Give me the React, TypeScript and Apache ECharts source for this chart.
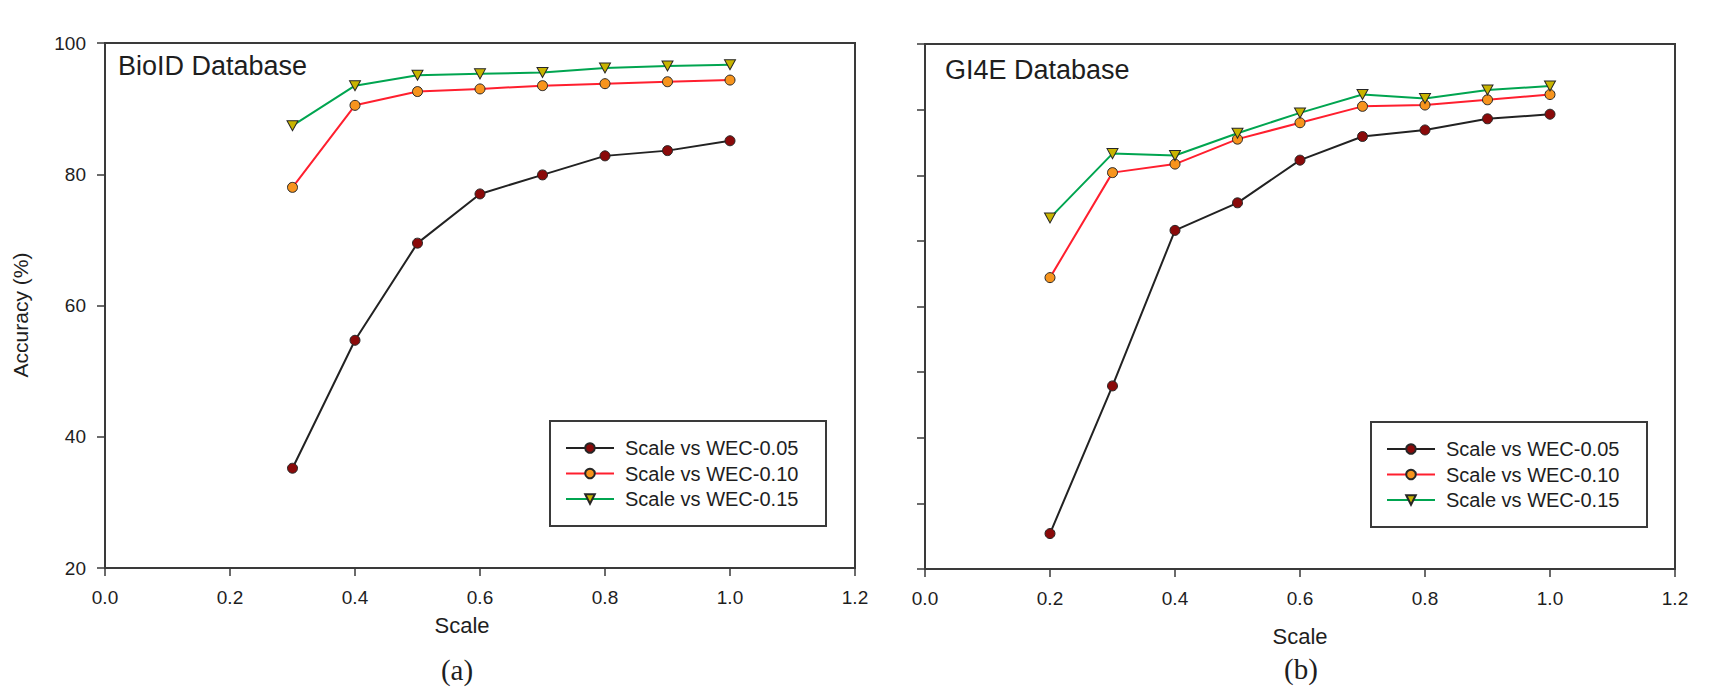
import { useEffect, useRef } from "react";
import * as echarts from "echarts";

// Scale values and accuracies (%) for the BioID database
const bioScale = [0.3, 0.4, 0.5, 0.6, 0.7, 0.8, 0.9, 1.0];
const bioWec005 = [35.2, 54.7, 69.5, 77.0, 79.9, 82.8, 83.6, 85.1];
const bioWec010 = [78.0, 90.5, 92.6, 93.0, 93.5, 93.8, 94.1, 94.35];
const bioWec015 = [87.4, 93.5, 95.1, 95.3, 95.5, 96.2, 96.5, 96.7];

// Scale values and accuracies (%) for the GI4E database
const gi4eScale = [0.2, 0.3, 0.4, 0.5, 0.6, 0.7, 0.8, 0.9, 1.0];
const gi4eWec005 = [25.4, 47.9, 71.6, 75.8, 82.3, 85.9, 86.9, 88.6, 89.3];
const gi4eWec010 = [64.4, 80.4, 81.7, 85.5, 88.0, 90.5, 90.7, 91.5, 92.3];
const gi4eWec015 = [73.5, 83.3, 83.0, 86.4, 89.5, 92.3, 91.7, 93.0, 93.6];

const seriesNames = ["Scale vs WEC-0.05", "Scale vs WEC-0.10", "Scale vs WEC-0.15"];
const panelTitles = ["BioID Database", "GI4E Database"];
const panelLetters = ["(a)", "(b)"];

const SANS = "'Liberation Sans', Arial, sans-serif";
const SERIF = "'Liberation Serif', 'Times New Roman', serif";
const AXIS = "#3a3a3a";
const TEXT = "#1e1e1e";

const styles = [
  { line: "#222222", fill: "#8a0a0a", symbol: "circle", size: 10 },
  { line: "#ff1f2e", fill: "#f7941d", symbol: "circle", size: 10 },
  { line: "#00a550", fill: "#c8b400", symbol: "path://M0,0L12,0L6,10Z", size: [11, 10] },
];

const pairs = (xs: number[], ys: number[]) => xs.map((x, i) => [x, ys[i]]);

function makeSeries(gridIdx: number, xs: number[], ys: number[][]) {
  return ys.map((vals, i) => ({
    name: seriesNames[i],
    type: "line",
    xAxisIndex: gridIdx,
    yAxisIndex: gridIdx,
    data: pairs(xs, vals),
    symbol: styles[i].symbol,
    symbolSize: styles[i].size,
    showAllSymbol: true,
    lineStyle: { color: styles[i].line, width: 2 },
    itemStyle: { color: styles[i].fill, borderColor: "#262626", borderWidth: 1 },
    z: 3 + i,
  }));
}

function xAxisFor(gridIndex: number) {
  return {
    type: "value",
    gridIndex,
    min: 0,
    max: 1.2,
    interval: 0.2,
    axisLine: { show: true, onZero: false, lineStyle: { color: AXIS, width: 2 } },
    axisTick: { show: true, length: 8, lineStyle: { color: AXIS, width: 1.5 } },
    axisLabel: {
      formatter: (v: number) => v.toFixed(1),
      fontSize: 19,
      fontFamily: SANS,
      color: TEXT,
      margin: 20,
    },
    splitLine: { show: false },
  };
}

function yAxisFor(gridIndex: number, interval: number, labels: boolean) {
  return {
    type: "value",
    gridIndex,
    min: 20,
    max: 100,
    interval,
    axisLine: { show: true, onZero: false, lineStyle: { color: AXIS, width: 2 } },
    axisTick: { show: true, length: 8, lineStyle: { color: AXIS, width: 1.5 } },
    axisLabel: {
      show: labels,
      fontSize: 19,
      fontFamily: SANS,
      color: TEXT,
      margin: 19,
    },
    splitLine: { show: false },
  };
}

function legendFor(left: number, top: number) {
  return {
    orient: "vertical",
    left,
    top,
    padding: 0,
    itemWidth: 48,
    itemHeight: 12,
    itemGap: 5.5,
    data: seriesNames,
    textStyle: {
      fontSize: 20,
      fontFamily: SANS,
      color: TEXT,
      lineHeight: 20,
      padding: [0, 0, 0, 6],
    },
  };
}

function legendBox(x: number, y: number) {
  return {
    type: "rect",
    shape: { x, y, width: 276, height: 105 },
    style: { fill: "none", stroke: AXIS, lineWidth: 2 },
    z: 1,
  };
}

function label(text: string, x: number, y: number, fontSize: number, family: string, rotation = 0) {
  return {
    type: "text",
    x,
    y,
    rotation,
    style: {
      text,
      fontSize,
      fontFamily: family,
      fill: TEXT,
      align: "center",
      verticalAlign: "middle",
    },
  };
}

export default function App() {
  const ref = useRef<HTMLDivElement>(null);

  useEffect(() => {
    if (!ref.current) return;
    const chart = echarts.init(ref.current, undefined, { renderer: "svg" });
    chart.setOption({
      animation: false,
      backgroundColor: "#ffffff",
      grid: [
        { left: 105, top: 43, width: 750, height: 525, show: true, borderColor: AXIS, borderWidth: 2 },
        { left: 925, top: 44, width: 750, height: 525, show: true, borderColor: AXIS, borderWidth: 2 },
      ],
      xAxis: [xAxisFor(0), xAxisFor(1)],
      yAxis: [yAxisFor(0, 20, true), yAxisFor(1, 10, false)],
      legend: [legendFor(565, 438), legendFor(1386, 439)],
      series: [
        ...makeSeries(0, bioScale, [bioWec005, bioWec010, bioWec015]),
        ...makeSeries(1, gi4eScale, [gi4eWec005, gi4eWec010, gi4eWec015]),
      ],
      graphic: [
        legendBox(550, 421),
        legendBox(1371, 422),
        {
          type: "text",
          x: 118,
          y: 66,
          style: { text: panelTitles[0], fontSize: 27, fontFamily: SANS, fill: TEXT, align: "left", verticalAlign: "middle" },
        },
        {
          type: "text",
          x: 945,
          y: 70,
          style: { text: panelTitles[1], fontSize: 27, fontFamily: SANS, fill: TEXT, align: "left", verticalAlign: "middle" },
        },
        label("Accuracy (%)", 20, 315, 21, SANS, Math.PI / 2),
        label("Scale", 462, 625, 22, SANS),
        label("Scale", 1300, 636, 22, SANS),
        label(panelLetters[0], 457, 670, 29, SERIF),
        label(panelLetters[1], 1301, 669, 29, SERIF),
      ],
    });
    return () => chart.dispose();
  }, []);

  return (
    <div
      ref={ref}
      style={{ position: "fixed", left: 0, top: 0, width: 1719, height: 692, background: "#fff" }}
    />
  );
}
